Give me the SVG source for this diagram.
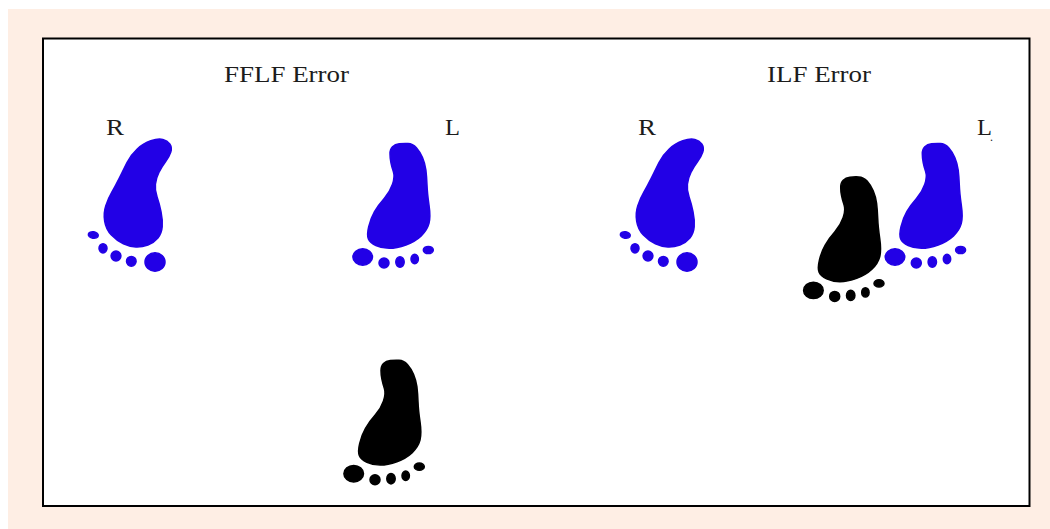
<svg xmlns="http://www.w3.org/2000/svg" width="1050" height="529" viewBox="0 0 1050 529">
<style>
text{font-family:"Liberation Serif","Times New Roman",serif;font-size:24px;fill:#1c1c1c}
.blue{fill:#2200e6;stroke:#2200e6;stroke-width:1.500;stroke-linejoin:round}
.black{fill:#000;stroke:#000;stroke-width:1.500;stroke-linejoin:round}
</style>
<defs>
<g id="right-foot">
<path d="M150.800 140.800Q158.300 138.300 162.800 139.500Q167.300 140.700 169.800 144Q172.300 147.300 170.800 152Q169.300 156.700 165.500 161.700Q161.700 166.700 158.900 172.500Q156 178.300 155.400 184.200Q154.700 190 157 196.700Q159.300 203.300 161 211.700Q162.700 220 162.200 226.700Q161.700 233.300 157.900 238Q154 242.700 147.900 245Q141.700 247.300 135.900 247Q130 246.700 123.400 243.700Q116.700 240.700 111.400 235Q106 229.300 104.700 221.300Q103.300 213.300 105.800 205.800Q108.300 198.300 111.700 192.500Q115 186.700 119.200 178.400Q123.300 170 127 162.500Q130.700 155 137 149.200Q143.300 143.300 150.800 140.800Z"/>
<ellipse cx="93.300" cy="235" rx="5" ry="3.200" transform="rotate(10 93.300 235)"/>
<ellipse cx="103" cy="248.300" rx="4" ry="4.600"/>
<ellipse cx="116" cy="256" rx="4.900" ry="4.900"/>
<ellipse cx="131.300" cy="261.300" rx="4.800" ry="4.900"/>
<ellipse cx="155" cy="262" rx="10" ry="9.200"/>
</g>
<g id="left-foot">
<path d="M390 153.800Q390 149.300 392.500 146.800Q395 144.300 399.200 143.800Q403.300 143.300 408 143.500Q412.700 143.700 416.400 147.700Q420 151.700 422.500 157.500Q425 163.300 425.900 170Q426.700 176.700 427 185Q427.300 193.300 429 205Q430.700 216.700 429 223.400Q427.300 230 421.200 235.900Q415 241.700 405.900 245Q396.700 248.300 389.200 248.300Q381.700 248.300 375.900 245.500Q370 242.700 368.400 238.900Q366.700 235 368.700 226.700Q370.700 218.300 374.500 211.700Q378.300 205 384.200 198.400Q390 191.700 392.500 184.200Q395 176.700 393.400 171.700Q391.700 166.700 390.900 162.500Q390 158.300 390 153.800Z"/>
<ellipse cx="362.700" cy="257" rx="9.800" ry="8.200"/>
<ellipse cx="384" cy="263" rx="5" ry="5"/>
<ellipse cx="400" cy="262" rx="4.200" ry="5.200"/>
<ellipse cx="414.700" cy="259" rx="3.700" ry="4.700"/>
<ellipse cx="428.300" cy="250" rx="5" ry="3.600"/>
</g>
</defs>
<rect width="1050" height="529" fill="#fff"/>
<rect x="8" y="9" width="1042" height="520" fill="#feeee4"/>
<rect id="frame" x="43" y="38.500" width="986.500" height="467.500" fill="#fff" stroke="#000" stroke-width="2"/>
<g id="connectors"/>
<g id="title-fflf"><text x="224" y="81.500" textLength="125" lengthAdjust="spacingAndGlyphs">FFLF Error</text></g>
<g id="title-ilf"><text x="767" y="81.500" textLength="104" lengthAdjust="spacingAndGlyphs">ILF Error</text></g>
<g id="fflf-right"><text x="106" y="135" textLength="18" lengthAdjust="spacingAndGlyphs">R</text><use href="#right-foot" class="blue"/></g>
<g id="fflf-left"><text x="445" y="135" textLength="15" lengthAdjust="spacingAndGlyphs">L</text><use href="#left-foot" class="blue"/></g>
<g id="fflf-black"><use href="#left-foot" class="black" transform="translate(-9 216.700)"/></g>
<g id="ilf-right"><text x="638" y="135" textLength="18" lengthAdjust="spacingAndGlyphs">R</text><use href="#right-foot" class="blue" transform="translate(532 0)"/></g>
<g id="ilf-left"><text x="977" y="135" textLength="15" lengthAdjust="spacingAndGlyphs">L</text><text x="990" y="141" style="font-size:12px">.</text><use href="#left-foot" class="blue" transform="translate(532.300 0)"/></g>
<g id="ilf-black"><use href="#left-foot" class="black" transform="translate(450.700 33.400)"/></g>
</svg>
